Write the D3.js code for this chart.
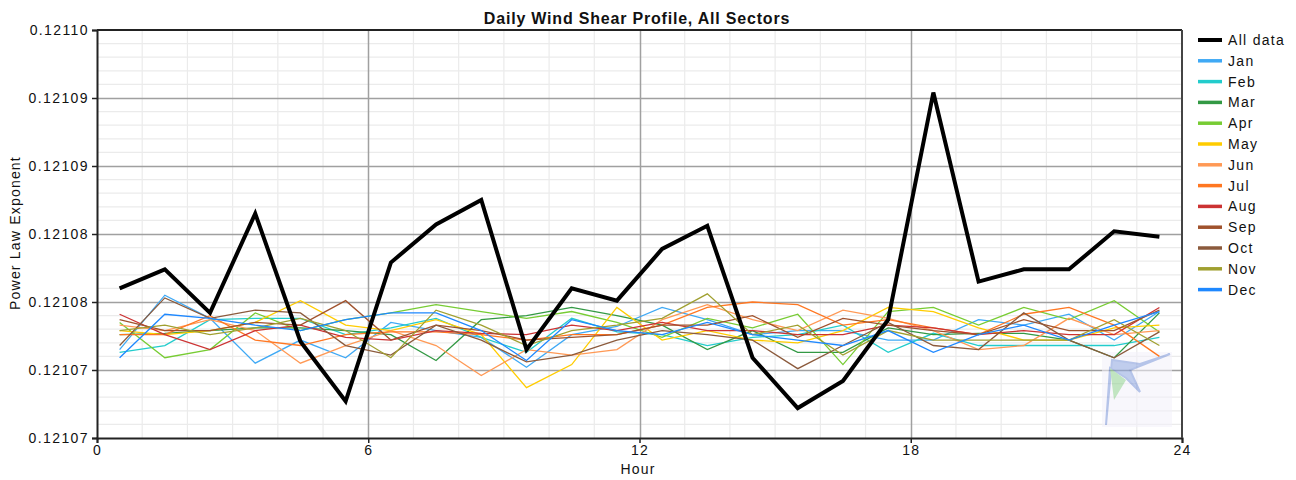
<!DOCTYPE html>
<html><head><meta charset="utf-8">
<script src="https://cdn.jsdelivr.net/npm/d3@7"></script>
<style>
body{margin:0;background:#fff;}
text{font-family:"Liberation Sans",Arial,sans-serif;}
</style></head>
<body><svg id="c" width="1296" height="480"></svg>
<script>
const hours = [0.5,1.5,2.5,3.5,4.5,5.5,6.5,7.5,8.5,9.5,10.5,11.5,12.5,13.5,14.5,15.5,16.5,17.5,18.5,19.5,20.5,21.5,22.5,23.5];
const seriesNames = ["All data","Jan","Feb","Mar","Apr","May","Jun","Jul","Aug","Sep","Oct","Nov","Dec"];
const seriesColors = ["#000000","#3fa9f5","#22cccc","#339944","#77cc33","#ffcc00","#ff9955","#ff7722","#cc3333","#a0522d","#8b5a3c","#a0a030","#1e88ff"];
const allData = [0.1210810,0.1210824,0.1210792,0.1210865,0.1210771,0.1210727,0.1210829,0.1210857,0.1210875,0.1210765,0.1210810,0.1210801,0.1210839,0.1210856,0.1210759,0.1210722,0.1210742,0.1210787,0.1210954,0.1210815,0.1210824,0.1210824,0.1210852,0.1210848];
const jan = [0.1210765,0.1210805,0.1210788,0.1210755,0.1210772,0.1210759,0.1210785,0.1210779,0.1210774,0.1210752,0.1210776,0.1210782,0.1210796,0.1210787,0.1210776,0.1210779,0.1210779,0.1210772,0.1210772,0.1210787,0.1210783,0.1210791,0.1210772,0.1210793];
const feb = [0.1210763,0.1210768,0.1210787,0.1210788,0.1210788,0.1210776,0.1210781,0.1210788,0.1210774,0.1210763,0.1210788,0.1210778,0.1210776,0.1210768,0.1210774,0.1210776,0.1210783,0.1210763,0.1210777,0.1210768,0.1210768,0.1210768,0.1210768,0.1210774];
const mar = [0.1210776,0.1210777,0.1210779,0.1210781,0.1210781,0.1210779,0.1210776,0.1210757,0.1210787,0.1210790,0.1210796,0.1210790,0.1210783,0.1210765,0.1210779,0.1210763,0.1210763,0.1210781,0.1210776,0.1210777,0.1210777,0.1210772,0.1210759,0.1210792];
const apr = [0.1210785,0.1210759,0.1210765,0.1210792,0.1210779,0.1210787,0.1210792,0.1210798,0.1210793,0.1210788,0.1210793,0.1210785,0.1210774,0.1210788,0.1210781,0.1210791,0.1210754,0.1210793,0.1210796,0.1210783,0.1210796,0.1210787,0.1210801,0.1210778];
const may = [0.1210779,0.1210776,0.1210779,0.1210785,0.1210801,0.1210783,0.1210779,0.1210787,0.1210776,0.1210737,0.1210754,0.1210796,0.1210772,0.1210779,0.1210772,0.1210770,0.1210779,0.1210796,0.1210793,0.1210781,0.1210772,0.1210772,0.1210781,0.1210783];
const jun = [0.1210783,0.1210779,0.1210787,0.1210779,0.1210755,0.1210768,0.1210779,0.1210768,0.1210746,0.1210765,0.1210761,0.1210765,0.1210787,0.1210798,0.1210787,0.1210779,0.1210794,0.1210788,0.1210779,0.1210765,0.1210768,0.1210788,0.1210776,0.1210779];
const jul = [0.1210776,0.1210776,0.1210790,0.1210772,0.1210768,0.1210776,0.1210778,0.1210778,0.1210776,0.1210772,0.1210776,0.1210776,0.1210783,0.1210796,0.1210800,0.1210798,0.1210783,0.1210787,0.1210781,0.1210776,0.1210791,0.1210796,0.1210783,0.1210760];
const aug = [0.1210791,0.1210776,0.1210765,0.1210779,0.1210783,0.1210774,0.1210772,0.1210779,0.1210777,0.1210776,0.1210783,0.1210779,0.1210785,0.1210779,0.1210779,0.1210776,0.1210776,0.1210783,0.1210781,0.1210776,0.1210779,0.1210776,0.1210776,0.1210796];
const sep = [0.1210787,0.1210779,0.1210779,0.1210785,0.1210783,0.1210801,0.1210772,0.1210783,0.1210779,0.1210772,0.1210774,0.1210776,0.1210783,0.1210783,0.1210790,0.1210774,0.1210788,0.1210783,0.1210779,0.1210776,0.1210787,0.1210779,0.1210779,0.1210794];
const oct = [0.1210768,0.1210803,0.1210788,0.1210794,0.1210792,0.1210768,0.1210761,0.1210783,0.1210772,0.1210756,0.1210761,0.1210772,0.1210779,0.1210776,0.1210772,0.1210751,0.1210768,0.1210785,0.1210768,0.1210765,0.1210792,0.1210772,0.1210759,0.1210778];
const nov = [0.1210779,0.1210783,0.1210776,0.1210781,0.1210788,0.1210779,0.1210759,0.1210794,0.1210783,0.1210768,0.1210779,0.1210783,0.1210788,0.1210806,0.1210776,0.1210783,0.1210761,0.1210779,0.1210772,0.1210772,0.1210772,0.1210772,0.1210787,0.1210768];
const dec = [0.1210759,0.1210791,0.1210788,0.1210783,0.1210779,0.1210787,0.1210792,0.1210792,0.1210779,0.1210757,0.1210787,0.1210779,0.1210776,0.1210785,0.1210776,0.1210772,0.1210768,0.1210779,0.1210763,0.1210776,0.1210783,0.1210772,0.1210783,0.1210793];
const xTicks = [0,6,12,18,24];
const yTicks = [0.121070,0.121075,0.121080,0.121085,0.121090,0.121095,0.121100];
const yTickLabels = ["0.12107","0.12107","0.12108","0.12108","0.12109","0.12109","0.12110"];

const seriesValues = [allData,jan,feb,mar,apr,may,jun,jul,aug,sep,oct,nov,dec];

const svg = d3.select("#c");
const L=97, R=1182, T=30, B=438;
const x = d3.scaleLinear().domain([0,24]).range([L,R]);
const y = d3.scaleLinear().domain([0.121070,0.121100]).range([B,T]);
const FONT = "'Liberation Sans',Arial,sans-serif";

const g = svg.append("g");
// minor grid
g.selectAll("line.mx").data(d3.range(1,24).filter(h=>h%6)).enter().append("line")
 .attr("x1",d=>x(d)).attr("x2",d=>x(d)).attr("y1",T).attr("y2",B)
 .attr("stroke","#ebebeb").attr("stroke-width",1.2);
const minorY = d3.range(1,30).filter(i=>i%5).map(i=>0.121070+i*0.000001);
g.selectAll("line.my").data(minorY).enter().append("line")
 .attr("y1",d=>y(d)).attr("y2",d=>y(d)).attr("x1",L).attr("x2",R)
 .attr("stroke","#ebebeb").attr("stroke-width",1.2);
// major grid
g.selectAll("line.Mx").data([6,12,18]).enter().append("line")
 .attr("x1",d=>Math.round(x(d))+0.5).attr("x2",d=>Math.round(x(d))+0.5).attr("y1",T).attr("y2",B)
 .attr("stroke","#a0a0a0").attr("stroke-width",1.5);
g.selectAll("line.My").data(yTicks.slice(1,-1)).enter().append("line")
 .attr("y1",d=>Math.round(y(d))+0.5).attr("y2",d=>Math.round(y(d))+0.5).attr("x1",L).attr("x2",R)
 .attr("stroke","#a0a0a0").attr("stroke-width",1.5);

// watermark logo
const logo = svg.append("g").attr("opacity",0.55);
logo.append("rect").attr("x",1102).attr("y",352).attr("width",70).attr("height",75).attr("fill","#f3f1fa");
logo.append("path").attr("d","M1106,425 L1110,368 L1126,378 L1140,392 L1130,370 L1170,354 L1140,364 L1112,360 Z")
 .attr("fill","#8ea6e0").attr("stroke","#7a94d8").attr("stroke-width",2);
logo.append("path").attr("d","M1110,368 L1114,400 L1126,380 Z").attr("fill","#8fd08f");

// lines
const line = d3.line().x((d,i)=>x(hours[i])).y(d=>y(d));
const order = d3.range(1,13).concat([0]);
svg.append("g").selectAll("path").data(order).enter().append("path")
 .attr("d",i=>line(seriesValues[i]))
 .attr("fill","none")
 .attr("stroke",i=>seriesColors[i])
 .attr("stroke-width",i=>i===0?4:1.3)
 .attr("stroke-linejoin","miter");

// axes
const yAxis = d3.axisLeft(y).tickValues(yTicks).tickSize(5).tickFormat((d,i)=>yTickLabels[i]);
const ya = svg.append("g").attr("transform",`translate(${L},0)`).call(yAxis);
ya.select(".domain").attr("stroke","#222").attr("stroke-width",2);
ya.selectAll(".tick line").attr("stroke","#222").attr("stroke-width",1.5);
ya.selectAll(".tick text").attr("font-size",14).attr("fill","#111").attr("x",-8).attr("letter-spacing","1.4px").attr("font-family",FONT);

const xAxis = d3.axisBottom(x).tickValues(xTicks).tickSize(5).tickFormat(d3.format("d"));
const xa = svg.append("g").attr("transform",`translate(0,${B})`).call(xAxis);
xa.select(".domain").attr("stroke","#222").attr("stroke-width",2);
xa.selectAll(".tick line").attr("stroke","#222").attr("stroke-width",1.5);
xa.selectAll(".tick text").attr("font-size",14).attr("fill","#111").attr("y",7).attr("dy","0.71em").attr("letter-spacing","1.2px").attr("font-family",FONT);

// frame top and right
svg.append("line").attr("x1",L).attr("x2",R).attr("y1",T).attr("y2",T).attr("stroke","#222").attr("stroke-width",2);
svg.append("line").attr("x1",R).attr("x2",R).attr("y1",T).attr("y2",B).attr("stroke","#444").attr("stroke-width",2);

// titles
svg.append("text").attr("x",637).attr("y",24).attr("text-anchor","middle").attr("font-size",16).attr("font-weight","bold").attr("letter-spacing","0.8px").attr("fill","#111")
 .text("Daily Wind Shear Profile, All Sectors");
svg.append("text").attr("x",638).attr("y",474).attr("text-anchor","middle").attr("font-size",14).attr("letter-spacing","1.2px").attr("fill","#111").text("Hour");
svg.append("text").attr("transform","translate(20,233) rotate(-90)").attr("text-anchor","middle").attr("font-size",14).attr("letter-spacing","1.2px").attr("fill","#111").text("Power Law Exponent");

// legend
const lg = svg.append("g").selectAll("g").data(seriesNames).enter().append("g")
 .attr("transform",(d,i)=>`translate(1198,${40+i*20.8})`);
lg.append("line").attr("x1",0).attr("x2",24).attr("y1",0).attr("y2",0)
 .attr("stroke",(d,i)=>seriesColors[i]).attr("stroke-width",(d,i)=>i===0?4:3.5);
lg.append("text").attr("x",30).attr("y",5).attr("font-size",14).attr("fill","#111").attr("letter-spacing","1.3px").text(d=>d);
</script></body></html>
